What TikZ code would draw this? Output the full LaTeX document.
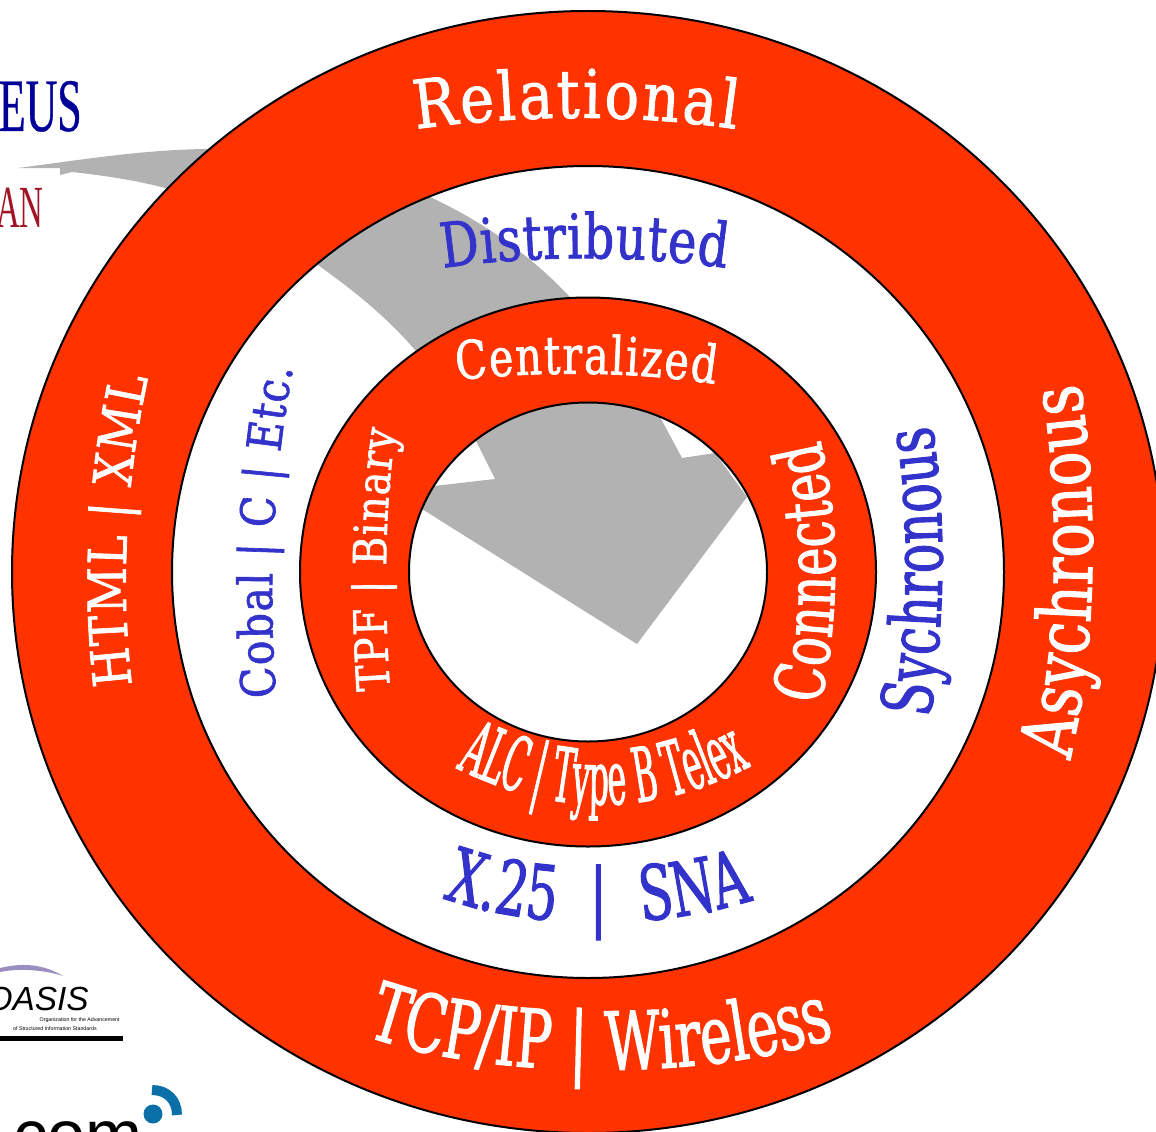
\documentclass[tikz,border=0pt]{standalone}
\usepackage{fontspec}
\usepackage{tikz}
\usetikzlibrary{decorations.text}
\setmainfont{DejaVu Serif}
\newfontfamily\wideserif[FakeStretch=0.86,FakeBold=1.3]{DejaVu Serif}
\newfontfamily\midserif[FakeStretch=0.78,FakeBold=1.3]{DejaVu Serif}
\newfontfamily\slimserif[FakeStretch=0.7,FakeBold=1.3]{DejaVu Serif}
\newfontfamily\gapserif[FakeStretch=0.66,FakeBold=1.3]{DejaVu Serif}
\newfontfamily\tallserif[FakeStretch=0.42,FakeBold=1.1]{DejaVu Serif}
\newfontfamily\logoserif[FakeStretch=0.58,FakeBold=0.5]{Liberation Serif}
\newfontfamily\logoserifnarrow[FakeStretch=0.55]{Liberation Serif}
\newfontfamily\logosans{Liberation Sans}
\definecolor{ringred}{HTML}{FF3300}
\definecolor{ringblue}{HTML}{3333CC}
\definecolor{arrowgray}{HTML}{B2B2B2}
\definecolor{logoblue}{HTML}{000099}
\definecolor{logored}{HTML}{A01525}
\definecolor{comblue}{HTML}{0B6FA8}
\definecolor{swoosh}{HTML}{9A8FC0}
\tikzset{
        ring/.style = {draw = black, fill = ringred, line width = 0.04cm, even odd rule},
        ringtext/.style n args = {4}{decorate, decoration = {text along path, text format delimiters = {[}{]}, text align = {fit to path}, text = {[\color{#1}#2\fontsize{#3}{#3}\selectfont]#4}}},
        gaptext/.style = {decoration = {text align = {fit to path stretching spaces}}},
        logotext/.style = {inner sep = 0pt, anchor = base east}
}

\begin{document}
\begin{tikzpicture}[x = 0.02cm, y = -0.02cm]
        \useasboundingbox (0, 0) rectangle (1156, 1132);
        \clip (0, 0) rectangle (1156, 1132);

        \node[logotext, text = logoblue, font = \logoserif\fontsize{43}{43}\selectfont] (eus) at (82, 131) {EUS};
        \node[logotext, text = logored, font = \logoserifnarrow\fontsize{34}{34}\selectfont] (an) at (44, 227) {AN};
        \node[logotext, font = \logosans\itshape\fontsize{19}{19}\selectfont] (oasis) at (89, 1010) {OASIS};
        \node[logotext, font = \logosans\fontsize{3}{3}\selectfont] (oasisA) at (120, 1021) {Organization for the Advancement};
        \node[logotext, font = \logosans\fontsize{3}{3}\selectfont] (oasisB) at (97, 1030) {of Structured Information Standards};
        \fill (0, 1036) rectangle (123, 1041);
        \fill[swoosh] (0, 968) .. controls (25, 962) and (45, 965) .. (63, 976) .. controls (45, 970) and (20, 968) .. (0, 972) -- cycle;
        \node[logotext, font = \logosans\fontsize{39}{39}\selectfont] (com) at (143, 1158) {com};
        \fill[comblue] (153, 1114) circle (9.5);
        \draw[comblue, line width = 0.2cm] (152, 1090) .. controls (167, 1090) and (177, 1100) .. (177, 1115);

        \fill[arrowgray] (18, 168) .. controls (80, 160) and (140, 150) .. (205, 149)
                .. controls (290, 148) and (370, 165) .. (430, 197)
                .. controls (490, 225) and (535, 260) .. (570, 297)
                .. controls (610, 335) and (640, 375) .. (660, 417)
                -- (682, 458) -- (715, 453) -- (747, 497) -- (637, 644) -- (422, 509) -- (434, 486) -- (495, 479) -- (476, 441)
                .. controls (450, 405) and (435, 372) .. (415, 350)
                .. controls (385, 315) and (350, 288) .. (318, 265)
                .. controls (270, 228) and (215, 203) .. (165, 188)
                .. controls (135, 180) and (100, 175) .. (72, 172)
                -- (60, 175) -- (60, 168) -- cycle;

        \path[ring] (588, 572) ellipse (576 and 561) (588, 572) ellipse (416 and 406);
        \path[ring] (588, 572) ellipse (288 and 274.5) (588, 572) ellipse (179 and 169.5);

        \path[ringtext = {white}{\wideserif}{38}{Relational}] (416, 129) .. controls (525, 114) and (632, 114) .. (736, 129);
        \path[ringtext = {ringblue}{\midserif}{35}{Distributed}] (443, 268) .. controls (530, 255) and (640, 255) .. (726, 268);
        \path[ringtext = {white}{\midserif}{30}{Centralized}] (457, 380) .. controls (540, 371) and (630, 371) .. (715, 384);
        \path[ringtext = {white}{\wideserif}{30}{HTML | XML}] (132, 685) .. controls (120, 585) and (126, 480) .. (148, 378);
        \path[ringtext = {ringblue}{\wideserif}{27}{Cobal | C | Etc.}] (276, 697) .. controls (268, 590) and (272, 480) .. (293, 368);
        \path[ringtext = {white}{\wideserif}{26}{TPF | Binary}] (390, 690) .. controls (384, 600) and (384, 510) .. (396, 430);
        \path[ringtext = {white}{\midserif}{42}{Asychronous}] (1070, 760) .. controls (1098, 640) and (1098, 500) .. (1080, 383);
        \path[ringtext = {ringblue}{\slimserif}{40}{Sychronous}] (930, 718) .. controls (945, 620) and (947, 520) .. (932, 425);
        \path[ringtext = {white}{\slimserif}{39}{Connected}] (820, 705) .. controls (840, 620) and (840, 520) .. (820, 440);
        \path[ringtext = {white}{\tallserif}{43}{ALC | Type B Telex}] (456, 768) .. controls (555, 817) and (650, 817) .. (747, 768);
        \path[ringtext = {ringblue}{\gapserif}{43}{X.25 | SNA}, gaptext] (443, 898) .. controls (530, 930) and (660, 930) .. (753, 900);
        \path[ringtext = {white}{\gapserif}{46}{TCP/IP | Wireless}, gaptext] (366, 1036) .. controls (490, 1080) and (700, 1082) .. (835, 1038);
\end{tikzpicture}
\end{document}
